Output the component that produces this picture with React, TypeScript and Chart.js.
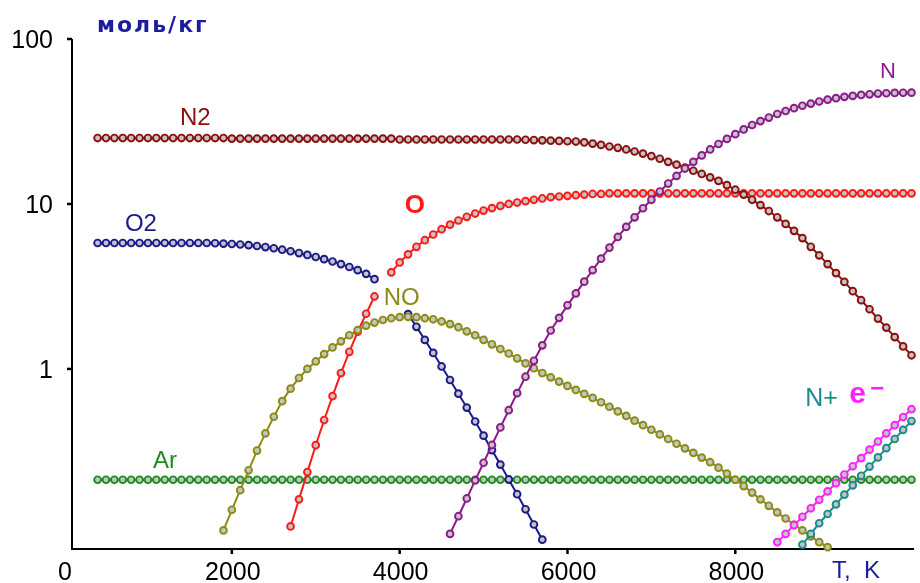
import React, { useEffect, useRef } from "react";
import { Chart, registerables } from "chart.js";

Chart.register(...registerables);

// ---- data (temperature grid step, K) ----
const TEMP_STEP = 100;

const n2Start = 400;
const n2Values = [
  25.1, 25.1, 25.1, 25.1, 25.1, 25.1, 25.1, 25.1, 25.1, 25.1,
  25.1, 25.1, 25.1, 25.1, 25.1, 25.1,
  24.9, 24.9, 24.9, 24.9, 24.9, 24.9, 24.9, 24.9, 24.9, 24.9,
  24.9, 24.9, 24.9, 24.9, 24.9, 24.9, 24.9, 24.9, 24.9, 24.9,
  24.6, 24.6, 24.6, 24.6, 24.6, 24.6, 24.6, 24.6, 24.6, 24.6,
  24.6, 24.6, 24.6, 24.6, 24.6,
  24.5, 24.4, 24.3, 24.2, 24.1,
  24.0, 23.9, 23.6, 23.2, 22.8, 22.3, 21.9, 21.4, 20.8, 20.2,
  19.5, 18.8, 18.0, 17.3, 16.6, 15.9, 15.2, 14.5, 13.8, 13.0,
  12.2, 11.4, 10.6, 9.84, 9.06, 8.3, 7.57, 6.87, 6.21, 5.5,
  4.88, 4.32, 3.81, 3.37, 2.96, 2.61, 2.3, 2.02, 1.78, 1.56,
  1.37, 1.21,
];

const o2Start = 400;
const o2Values = [
  5.8, 5.8, 5.8, 5.8, 5.8, 5.8, 5.8, 5.8, 5.8, 5.8, 5.8, 5.8, 5.8, 5.8,
  5.78, 5.75, 5.72, 5.68, 5.63, 5.56, 5.48, 5.39, 5.28, 5.17,
  5.04, 4.91, 4.77, 4.63, 4.48, 4.32, 4.15, 3.97, 3.77, 3.5,
  null, null, null,
  2.15, 1.8, 1.5, 1.25, 1.035, 0.857, 0.708, 0.583, 0.48, 0.394,
  0.322, 0.263, 0.214, 0.174, 0.141, 0.114, 0.0923,
];

const oStart = 2700;
const oValues = [
  0.111, 0.162, 0.237, 0.345, 0.49, 0.684, 0.944, 1.27, 1.68, 2.16, 2.75,
  null,
  3.85, 4.42, 4.95, 5.5, 6.03, 6.53, 7.03, 7.5, 7.94, 8.36,
  8.75, 9.12, 9.44, 9.73, 10.0, 10.2, 10.4, 10.6, 10.8, 11.0,
  11.1, 11.2, 11.3, 11.4, 11.5, 11.5,
  11.6, 11.6, 11.6, 11.6, 11.6, 11.6, 11.6, 11.6, 11.6, 11.6,
  11.6, 11.6, 11.6, 11.6, 11.6, 11.6, 11.6, 11.6, 11.6, 11.6,
  11.6, 11.6, 11.6, 11.6, 11.6, 11.6, 11.6, 11.6, 11.6, 11.6,
  11.6, 11.6, 11.6, 11.6, 11.6, 11.6, 11.6,
];

const noStart = 1900;
const noValues = [
  0.105, 0.14, 0.184, 0.243, 0.32, 0.407, 0.513, 0.638, 0.759, 0.881,
  1.0, 1.11, 1.23, 1.35, 1.47, 1.6, 1.72, 1.83, 1.91, 1.98,
  2.03, 2.06, 2.07, 2.06, 2.03, 2.0, 1.94, 1.87, 1.79, 1.69,
  1.6, 1.5, 1.41, 1.32, 1.24, 1.16, 1.08, 1.01, 0.944, 0.889,
  0.838, 0.789, 0.746, 0.706, 0.667, 0.628, 0.59, 0.553, 0.519, 0.486,
  0.456, 0.428, 0.401, 0.376, 0.352, 0.33, 0.31, 0.29, 0.272, 0.252,
  0.232, 0.213, 0.195, 0.178, 0.162, 0.148, 0.135, 0.124, 0.114, 0.105,
  0.0966, 0.0891, 0.0832,
];

const nStart = 4600;
const nValues = [
  0.1, 0.128, 0.164, 0.211, 0.27, 0.346, 0.442, 0.562, 0.713, 0.897,
  1.12, 1.39, 1.71, 2.04, 2.43, 2.87, 3.38, 3.97, 4.66, 5.44,
  6.31, 7.26, 8.3, 9.42, 10.6, 11.9, 13.3, 14.8, 16.4, 18.0,
  19.7, 21.4, 23.1, 24.8, 26.5, 28.3, 30.1, 31.8, 33.4, 35.1,
  36.6, 38.1, 39.4, 40.6, 41.8, 42.9, 43.8, 44.6, 45.2, 45.8,
  46.2, 46.7, 46.9, 47.1, 47.2, 47.3,
];

const arStart = 400;
const arValues = [
  0.213, 0.213, 0.213, 0.213, 0.213, 0.213, 0.213, 0.213, 0.213, 0.213,
  0.213, 0.213, 0.213, 0.213, 0.213, 0.213, 0.213, 0.213, 0.213, 0.213,
  0.213, 0.213, 0.213, 0.213, 0.213, 0.213, 0.213, 0.213, 0.213, 0.213,
  0.213, 0.213, 0.213, 0.213, 0.213, 0.213, 0.213, 0.213, 0.213, 0.213,
  0.213, 0.213, 0.213, 0.213, 0.213, 0.213, 0.213, 0.213, 0.213, 0.213,
  0.213, 0.213, 0.213, 0.213, 0.213, 0.213, 0.213, 0.213, 0.213, 0.213,
  0.213, 0.213, 0.213, 0.213, 0.213, 0.213, 0.213, 0.213, 0.213, 0.213,
  0.213, 0.213, 0.213, 0.213, 0.213, 0.213, 0.213, 0.213, 0.213, 0.213,
  0.213, 0.213, 0.213, 0.213, 0.213, 0.213, 0.213, 0.213, 0.213, 0.213,
  0.213, 0.213, 0.213, 0.213, 0.213, 0.213, 0.213, 0.213,
];

const nPlusStart = 8800;
const nPlusValues = [
  0.0861, 0.1, 0.116, 0.132, 0.151, 0.173, 0.197, 0.225, 0.256, 0.291,
  0.331, 0.376, 0.427, 0.483,
];

const eMinusStart = 8500;
const eMinusValues = [
  0.0891, 0.1, 0.113, 0.127, 0.143, 0.161, 0.181, 0.203, 0.229, 0.257,
  0.288, 0.324, 0.363, 0.407, 0.456, 0.511, 0.57,
];

// ---- axis ticks ----
const xTicks = [0, 2000, 4000, 6000, 8000];
const xTickLabels = ["0", "2000", "4000", "6000", "8000"];
const yTicks = [100, 10, 1];
const yTickLabels = ["100", "10", "1"];
const X_MIN = 95;
const X_MAX = 10131;
const Y_MIN = 0.081;
const Y_MAX = 100;

// ---- colours ----
const C_N2 = "#8b1010";
const C_O2 = "#1a1a8c";
const C_O = "#ff1a1a";
const C_NO = "#8c8c14";
const C_AR = "#1e8c1e";
const C_N = "#8c1a8c";
const C_NPLUS = "#1a8c8c";
const C_EMINUS = "#ff20ff";
const C_AXIS_TEXT = "#1c1ca0";

// ---- curve labels, anchored in data units ----
const curveLabels = [
  { text: "N2", t: 1381, v: 30.1, color: C_N2, font: '24px "Liberation Sans"' },
  { text: "O2", t: 726, v: 6.86, color: C_O2, font: '24px "Liberation Sans"' },
  { text: "O", t: 4060, v: 8.82, color: C_O, font: 'bold 26px "Liberation Sans"' },
  { text: "NO", t: 3810, v: 2.44, color: C_NO, font: '24px "Liberation Sans"' },
  { text: "Ar", t: 1060, v: 0.251, color: C_AR, font: '24px "Liberation Sans"' },
  { text: "N", t: 9726, v: 58.0, color: C_N, font: '22px "Liberation Sans"' },
  { text: "N+", t: 8833, v: 0.597, color: C_NPLUS, font: '25px "Liberation Sans"' },
  { text: "e", t: 9357, v: 0.622, color: C_EMINUS, font: 'bold 30px "Liberation Sans"' },
  { text: "\u2212", t: 9607, v: 0.69, color: C_EMINUS, font: 'bold 24px "Liberation Sans"' },
];

function toPoints(start: number, values: (number | null)[]) {
  return values.map((v, i) => ({ x: start + i * TEMP_STEP, y: v }));
}

function makeDataset(label: string, start: number, values: (number | null)[], color: string) {
  return {
    label,
    data: toPoints(start, values),
    borderColor: color,
    backgroundColor: color,
    borderWidth: 2,
    pointRadius: 3.4,
    pointBorderWidth: 1.9,
    pointBorderColor: color,
    pointBackgroundColor: "#c4c4c4",
    tension: 0,
    spanGaps: false,
    clip: false as any,
  };
}

const axesPlugin = {
  id: "customAxes",
  beforeDatasetsDraw(chart: any) {
    const { ctx, chartArea, scales } = chart;
    const { left, right, top, bottom } = chartArea;
    const x = scales.x;
    const y = scales.y;
    ctx.save();
    ctx.strokeStyle = "#000";
    ctx.lineWidth = 2;
    ctx.beginPath();
    ctx.moveTo(left, top);
    ctx.lineTo(left, bottom);
    ctx.lineTo(right, bottom);
    ctx.stroke();

    ctx.lineWidth = 2.5;
    yTicks.forEach((v) => {
      const py = y.getPixelForValue(v);
      ctx.beginPath();
      ctx.moveTo(left - 5, py);
      ctx.lineTo(left, py);
      ctx.stroke();
    });
    xTicks.forEach((v) => {
      if (v <= X_MIN) return;
      const px = x.getPixelForValue(v);
      ctx.beginPath();
      ctx.moveTo(px, bottom);
      ctx.lineTo(px, bottom + 5);
      ctx.stroke();
    });

    ctx.fillStyle = "#000";
    ctx.font = '25px "Liberation Sans"';
    ctx.textAlign = "right";
    ctx.textBaseline = "middle";
    yTicks.forEach((v, i) => {
      const py = y.getPixelForValue(v);
      ctx.fillText(yTickLabels[i], left - 19, py + 2);
    });
    ctx.textAlign = "center";
    ctx.textBaseline = "alphabetic";
    xTicks.forEach((v, i) => {
      const px = x.getPixelForValue(v);
      ctx.fillText(xTickLabels[i], px + 1, bottom + 31);
    });
    ctx.restore();
  },
  afterDatasetsDraw(chart: any) {
    const { ctx, chartArea, scales } = chart;
    const { left, right, top, bottom } = chartArea;
    const x = scales.x;
    const y = scales.y;
    ctx.save();
    ctx.textAlign = "left";
    ctx.textBaseline = "alphabetic";
    curveLabels.forEach((l) => {
      ctx.font = l.font;
      ctx.fillStyle = l.color;
      ctx.fillText(l.text, x.getPixelForValue(l.t), y.getPixelForValue(l.v));
    });
    // unit label and axis title
    ctx.fillStyle = C_AXIS_TEXT;
    ctx.font = 'bold 22px "DejaVu Sans"';
    try {
      (ctx as any).letterSpacing = "2px";
    } catch (e) {}
    ctx.fillText("моль/кг", left + 25, top - 7);
    try {
      (ctx as any).letterSpacing = "0px";
    } catch (e) {}
    ctx.font = '24px "Liberation Sans"';
    ctx.fillText("T,  K", right - 82, bottom + 29);
    ctx.restore();
  },
};

export default function App() {
  const canvasRef = useRef<HTMLCanvasElement | null>(null);

  useEffect(() => {
    const canvas = canvasRef.current;
    if (!canvas) return;
    const chart = new Chart(canvas, {
      type: "line",
      data: {
        datasets: [
          makeDataset("e-", eMinusStart, eMinusValues, C_EMINUS),
          makeDataset("N+", nPlusStart, nPlusValues, C_NPLUS),
          makeDataset("N", nStart, nValues, C_N),
          makeDataset("N2", n2Start, n2Values, C_N2),
          makeDataset("NO", noStart, noValues, C_NO),
          makeDataset("O", oStart, oValues, C_O),
          makeDataset("O2", o2Start, o2Values, C_O2),
          makeDataset("Ar", arStart, arValues, C_AR),
        ] as any,
      },
      options: {
        animation: false,
        responsive: false,
        devicePixelRatio: 1,
        layout: { padding: { left: 72, top: 39, right: 5, bottom: 34 } },
        plugins: { legend: { display: false }, tooltip: { enabled: false } },
        scales: {
          x: { type: "linear", min: X_MIN, max: X_MAX, display: false },
          y: { type: "logarithmic", min: Y_MIN, max: Y_MAX, display: false },
        },
      } as any,
      plugins: [axesPlugin],
    });
    return () => chart.destroy();
  }, []);

  return (
    <div
      style={{
        position: "fixed",
        left: 0,
        top: 0,
        width: 920,
        height: 583,
        background: "#fff",
      }}
    >
      <canvas ref={canvasRef} width={920} height={583} style={{ display: "block" }} />
    </div>
  );
}
